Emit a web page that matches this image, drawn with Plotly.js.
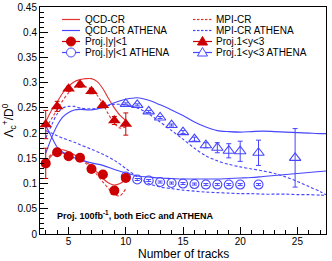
<!DOCTYPE html>
<html><head><meta charset="utf-8">
<script src="https://cdn.plot.ly/plotly-3.0.1.min.js"></script>
<style>html,body{margin:0;padding:0;background:#fff}#chart{width:332px;height:261px}</style>
</head><body><div id="chart"></div>
<script>
// ---------- data ----------
// model curves (EicC), sampled
var xModelE = [3, 3.5, 4, 4.5, 5, 5.5, 6, 6.5, 7, 7.5, 8, 8.5, 9, 9.5, 10];
var qcdE_fwd = [0.222, 0.245, 0.262, 0.280, 0.293, 0.302, 0.306, 0.308, 0.308, 0.302, 0.288, 0.268, 0.250, 0.235, 0.225];
var mpiE_fwd = [0.210, 0.228, 0.247, 0.265, 0.280, 0.290, 0.294, 0.292, 0.287, 0.275, 0.258, 0.237, 0.219, 0.210, 0.212];
var qcdE_mid = [0.140, 0.155, 0.164, 0.167, 0.163, 0.157, 0.150, 0.143, 0.134, 0.122, 0.110, 0.101, 0.097, 0.100, 0.108];
var mpiE_mid = [0.145, 0.158, 0.163, 0.160, 0.155, 0.150, 0.146, 0.140, 0.130, 0.117, 0.103, 0.090, 0.078, 0.076, 0.090];
// model curves (ATHENA), sampled
var xModelA = [3, 3.5, 4, 4.5, 5, 5.5, 6, 7, 8, 9, 10, 11, 12, 13, 14, 15, 16, 17, 18, 19, 20, 21, 22, 23, 24, 25, 26, 27, 27.5];
var qcdA_fwd = [0.160, 0.190, 0.215, 0.232, 0.241, 0.246, 0.247, 0.246, 0.251, 0.260, 0.267, 0.270, 0.265, 0.256, 0.246, 0.235, 0.222, 0.212, 0.205, 0.203, 0.202, 0.203, 0.204, 0.203, 0.202, 0.201, 0.200, 0.199, 0.199];
var mpiA_fwd = [0.190, 0.215, 0.238, 0.250, 0.253, 0.253, 0.250, 0.248, 0.252, 0.257, 0.256, 0.250, 0.238, 0.222, 0.205, 0.188, 0.170, 0.155, 0.145, 0.138, 0.133, 0.129, 0.125, 0.120, 0.113, 0.104, 0.094, 0.084, 0.078];
var qcdA_mid = [0.215, 0.193, 0.172, 0.162, 0.156, 0.151, 0.147, 0.141, 0.136, 0.128, 0.121, 0.115, 0.113, 0.111, 0.110, 0.109, 0.109, 0.109, 0.109, 0.110, 0.111, 0.112, 0.114, 0.116, 0.118, 0.120, 0.122, 0.124, 0.125];
var mpiA_mid = [0.205, 0.200, 0.195, 0.190, 0.186, 0.182, 0.177, 0.168, 0.158, 0.146, 0.130, 0.113, 0.100, 0.093, 0.090, 0.087, 0.085, 0.083, 0.082, 0.081, 0.080, 0.080, 0.079, 0.079, 0.079, 0.078, 0.078, 0.077, 0.077];
// projections, EicC
var xProjE = [3, 4, 5, 6, 7, 8, 9, 10];
var projE_mid = [0.140, 0.162, 0.154, 0.151, 0.129, 0.118, 0.086, 0.111];
var projE_midErr = [0.030, 0.004, 0.004, 0.004, 0.004, 0.004, 0.004, 0.005];
var projE_fwd = [0.217, 0.253, 0.288, 0.296, 0.283, 0.255, 0.225, 0.218];
var projE_fwdErr = [0.028, 0.010, 0.005, 0.005, 0.005, 0.005, 0.008, 0.022];
// projections, ATHENA
var xProjA = [10, 11, 12, 13, 14, 15, 16, 17, 18, 19, 20, 21.6];
var projA_mid = [0.114, 0.108, 0.106, 0.103, 0.101, 0.100, 0.099, 0.098, 0.098, 0.098, 0.098, 0.098];
var projA_midErr = [0.002, 0.002, 0.002, 0.002, 0.002, 0.002, 0.002, 0.002, 0.002, 0.002, 0.002, 0.002];
var xProjA_fwd = [10, 11, 12, 13, 14, 15, 16, 17, 18, 19, 20, 21.6, 24.8];
var projA_fwd = [0.258, 0.256, 0.243, 0.231, 0.216, 0.202, 0.188, 0.176, 0.171, 0.165, 0.164, 0.161, 0.151];
var projA_fwdErr = [0.002, 0.002, 0.002, 0.002, 0.002, 0.003, 0.004, 0.005, 0.010, 0.014, 0.020, 0.025, 0.058];
// text
var legendLabels = ["QCD-CR", "MPI-CR", "QCD-CR ATHENA", "MPI-CR ATHENA",
                    "Proj.|y|&lt;1", "Proj.1&lt;y&lt;3", "Proj.|y|&lt;1 ATHENA", "Proj.1&lt;y&lt;3 ATHENA"];
var xTitle = "Number of tracks";
var yTitle = "Λ<sub>c</sub><sup>+</sup>/D<sup>0</sup>";
var note = "<b>Proj. 100fb<sup>-1</sup>, both EicC and ATHENA</b>";

// ---------- styles ----------
var RED = "#e23232", REDM = "#cc0000", BLUE = "#4646ff";
var FONT = "Liberation Sans, Arial, Helvetica, sans-serif";
var DASH = "3px,2px";

function curve(x, y, color, dash) {
  return {type: "scatter", mode: "lines", x: x, y: y, showlegend: false,
          line: {color: color, width: 1.1, dash: dash || "solid", shape: "spline", smoothing: 0.9}};
}
function points(x, y, err, color, symbol, size, lw) {
  return {type: "scatter", mode: "markers", x: x, y: y, showlegend: false,
          marker: {color: color, symbol: symbol, size: size, line: {color: color, width: lw}},
          error_y: {type: "data", array: err, visible: true, color: color, thickness: 1, width: 2.5}};
}

var data = [
  curve(xModelE, qcdE_fwd, RED),
  curve(xModelE, mpiE_fwd, RED, DASH),
  curve(xModelE, qcdE_mid, RED),
  curve(xModelE, mpiE_mid, RED, DASH),
  curve(xModelA, qcdA_fwd, BLUE),
  curve(xModelA, mpiA_fwd, BLUE, DASH),
  curve(xModelA, qcdA_mid, BLUE),
  curve(xModelA, mpiA_mid, BLUE, DASH),
  points(xProjA, projA_mid, projA_midErr, BLUE, "circle-open", 9, 1.1),
  points(xProjA_fwd, projA_fwd, projA_fwdErr, BLUE, "triangle-up-open", 10, 1.1),
  points(xProjE, projE_mid, projE_midErr, REDM, "circle", 10, 0),
  points(xProjE, projE_fwd, projE_fwdErr, REDM, "triangle-up", 11, 0)
];

// ---------- hand-drawn legend (ROOT-like compact rows) ----------
var plotL = 40, plotT = 7, plotW = 286, plotH = 227;
function px2x(p) { return (p - plotL) / plotW; }
function px2y(p) { return 1 - (p - plotT) / plotH; }
var rowsPx = [19.5, 30.5, 41.5, 52.5];
var cols = [{k0: 62, k1: 80, m: 71, t: 83}, {k0: 193, k1: 212, m: 202.5, t: 214}];
var keyStyle = [
  {c: RED, dashed: false}, {c: RED, dashed: true},
  {c: BLUE, dashed: false}, {c: BLUE, dashed: true},
  {c: REDM, dashed: false, mk: "circle", fill: true}, {c: REDM, dashed: false, mk: "tri", fill: true},
  {c: BLUE, dashed: false, mk: "circle", fill: false}, {c: BLUE, dashed: false, mk: "tri", fill: false}
];
var shapes = [], annotations = [];
function seg(a, b, yy, color) {
  shapes.push({type: "path", xref: "paper", yref: "paper",
               path: "M" + px2x(a) + "," + yy + " L" + px2x(b) + "," + yy,
               line: {color: color, width: 1.2}});
}
legendLabels.forEach(function (lab, i) {
  var col = cols[i % 2], row = rowsPx[Math.floor(i / 2)], st = keyStyle[i];
  var yy = px2y(row);
  if (st.dashed) {
    for (var s = col.k0; s < col.k1; s += 4) seg(s, Math.min(s + 2.5, col.k1), yy, st.c);
  } else {
    seg(col.k0, col.k1, yy, st.c);
  }
  if (st.mk === "circle") {
    shapes.push({type: "circle", xref: "paper", yref: "paper", xsizemode: "pixel", ysizemode: "pixel",
                 xanchor: px2x(col.m), yanchor: yy, x0: -4.5, x1: 4.5, y0: -4.5, y1: 4.5,
                 fillcolor: st.fill ? st.c : "white", line: {color: st.c, width: 1}});
  } else if (st.mk === "tri") {
    shapes.push({type: "path", xref: "paper", yref: "paper", xsizemode: "pixel", ysizemode: "pixel",
                 xanchor: px2x(col.m), yanchor: yy, path: "M-5,-3.5 L5,-3.5 L0,5 Z",
                 fillcolor: st.fill ? st.c : "white", line: {color: st.c, width: 1}});
  }
  annotations.push({xref: "paper", yref: "paper", x: px2x(col.t), y: yy, xanchor: "left", yanchor: "middle",
                    showarrow: false, text: lab, font: {family: FONT, size: 10, color: "#000"}});
});
annotations.push({xref: "paper", yref: "paper", x: px2x(55), y: px2y(214.5), xanchor: "left", yanchor: "middle",
                  showarrow: false, text: note, font: {family: FONT, size: 9, color: "#000"}});
// x-axis title, placed like the ROOT original
annotations.push({xref: "paper", yref: "paper", x: 0.5, y: px2y(254), xanchor: "center", yanchor: "middle",
                  showarrow: false, text: xTitle, font: {family: FONT, size: 12, color: "#000"}});

var layout = {
  width: 332, height: 261,
  margin: {l: 40, r: 6, t: 7, b: 27, pad: 0},
  paper_bgcolor: "#fff", plot_bgcolor: "#fff",
  showlegend: false,
  font: {family: FONT, size: 10, color: "#000"},
  xaxis: {range: [2.5, 27.5], tick0: 0, dtick: 5, ticks: "inside", ticklen: 7, tickcolor: "#000", tickwidth: 1,
          minor: {dtick: 1, ticks: "inside", ticklen: 4, tickcolor: "#000", showgrid: false},
          showline: true, linecolor: "#000", linewidth: 1, mirror: true, showgrid: false, zeroline: false,
          tickfont: {family: FONT, size: 10}, ticklabelstandoff: -2, automargin: false},
  yaxis: {range: [0, 0.45], tick0: 0, dtick: 0.05, ticks: "inside", ticklen: 8, tickcolor: "#000", tickwidth: 1,
          minor: {dtick: 0.01, ticks: "inside", ticklen: 4, tickcolor: "#000", showgrid: false},
          showline: true, linecolor: "#000", linewidth: 1, mirror: true, showgrid: false, zeroline: false,
          tickfont: {family: FONT, size: 10}, automargin: false,
          title: {text: yTitle, font: {family: FONT, size: 12}, standoff: 4}},
  shapes: shapes,
  annotations: annotations
};
Plotly.newPlot("chart", data, layout, {staticPlot: true, displayModeBar: false});
</script></body></html>
